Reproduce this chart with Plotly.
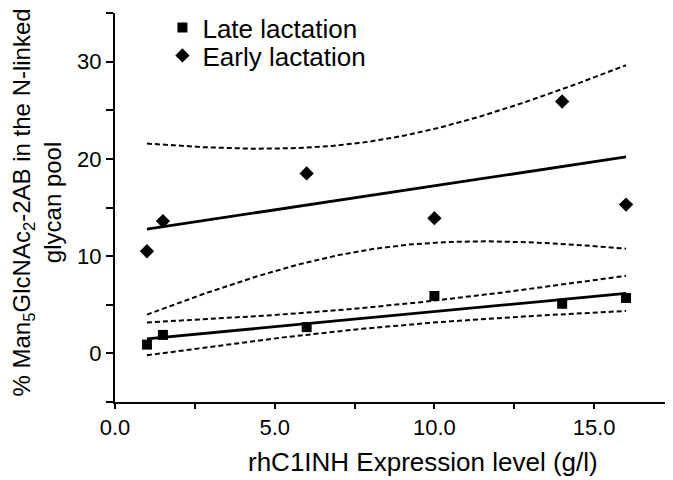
import numpy as np
import plotly.graph_objects as go

# Data
late_x = [1.0, 1.5, 6.0, 10.0, 14.0, 16.0]
late_y = [0.9, 1.9, 2.7, 5.9, 5.1, 5.7]
early_x = [1.0, 1.5, 6.0, 10.0, 14.0, 16.0]
early_y = [10.5, 13.6, 18.5, 13.9, 25.9, 15.3]
x_ticks = [0, 5, 10, 15]
y_ticks = [0, 10, 20, 30]
T_975_DF4 = 2.776  # Student t, 95% two-sided, 4 degrees of freedom

FONT = "Arial, 'Liberation Sans', sans-serif"


def fit_with_band(xs, ys):
    x = np.asarray(xs, float)
    y = np.asarray(ys, float)
    n = len(x)
    mx = x.mean()
    sxx = ((x - mx) ** 2).sum()
    slope = ((x - mx) * (y - y.mean())).sum() / sxx
    icpt = y.mean() - slope * mx
    resid = y - (icpt + slope * x)
    s = np.sqrt((resid ** 2).sum() / (n - 2))
    xg = np.linspace(x.min(), x.max(), 120)
    yg = icpt + slope * xg
    half = T_975_DF4 * s * np.sqrt(1.0 / n + (xg - mx) ** 2 / sxx)
    return xg, yg, yg - half, yg + half


fig = go.Figure()

for xs, ys in [(late_x, late_y), (early_x, early_y)]:
    xg, yg, lo, hi = fit_with_band(xs, ys)
    for band in (lo, hi):
        fig.add_trace(go.Scatter(x=xg, y=band, mode="lines", showlegend=False,
                                 line=dict(color="black", width=2, dash="5px,3px"),
                                 hoverinfo="skip"))
    fig.add_trace(go.Scatter(x=xg, y=yg, mode="lines", showlegend=False,
                             line=dict(color="black", width=2.8), hoverinfo="skip"))

fig.add_trace(go.Scatter(x=late_x, y=late_y, mode="markers", name="Late lactation",
                         legend="legend",
                         marker=dict(symbol="square", size=10, color="black")))
fig.add_trace(go.Scatter(x=early_x, y=early_y, mode="markers", name="Early lactation",
                         legend="legend2",
                         marker=dict(symbol="diamond", size=11, color="black")))

leg_common = dict(xanchor="left", yanchor="top", bgcolor="rgba(0,0,0,0)",
                  font=dict(size=26, family=FONT, color="black"))

fig.update_layout(
    width=665, height=472,
    margin=dict(l=107, r=0, t=5, b=78, autoexpand=False),
    paper_bgcolor="white", plot_bgcolor="white",
    font=dict(family=FONT, size=22, color="black"),
    showlegend=True,
    legend=dict(x=0.085, y=1.023, **leg_common),
    legend2=dict(x=0.085, y=0.951, **leg_common),
    annotations=[
        dict(text="rhC1INH Expression level (g/l)", xref="paper", yref="paper",
             x=0.552, y=0, yshift=-60, xanchor="center", yanchor="middle",
             showarrow=False, font=dict(size=26)),
        dict(text="% Man<sub>5</sub>GlcNAc<sub>2</sub>-2AB in the N-linked<br>glycan pool",
             xref="paper", yref="paper", x=0, xshift=-79, y=0.5, yshift=5,
             xanchor="center", yanchor="middle", textangle=-90,
             showarrow=False, font=dict(size=24)),
    ],
)

fig.update_xaxes(
    range=[0, 17.47], tickvals=x_ticks, ticktext=[f"{v:.1f}" for v in x_ticks],
    showline=True, linecolor="black", linewidth=2, ticks="outside", ticklen=5,
    tickwidth=2, tickcolor="black", showgrid=False, zeroline=False, automargin=False,
    minor=dict(dtick=2.5, tick0=0, ticks="outside", ticklen=5, tickwidth=2, tickcolor="black", showgrid=False),
    tickfont=dict(size=22),
)
fig.update_yaxes(
    range=[-5, 35], tickvals=y_ticks,
    showline=True, linecolor="black", linewidth=2, ticks="outside", ticklen=7,
    tickwidth=2, tickcolor="black", showgrid=False, zeroline=False, automargin=False,
    minor=dict(dtick=5, tick0=-5, ticks="outside", ticklen=7, tickwidth=2, tickcolor="black", showgrid=False),
    tickfont=dict(size=22),
)

fig.write_html("out.html")
